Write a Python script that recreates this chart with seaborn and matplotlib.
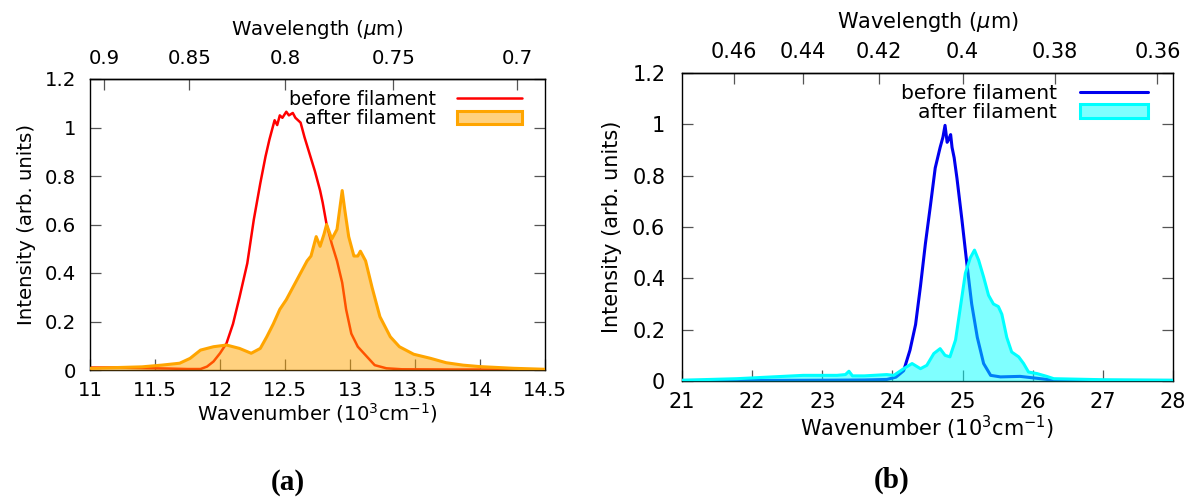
import numpy as np
import matplotlib
matplotlib.use("Agg")
import matplotlib.pyplot as plt
import seaborn as sns
from matplotlib.lines import Line2D
from matplotlib.patches import Patch

# ---------------- data ----------------
# panel (a): near-IR spectrum (wavenumber in 10^3 cm^-1)
a_before_wn = [11.0, 11.2, 11.4, 11.6, 11.75, 11.85, 11.90, 11.95, 12.0, 12.05, 12.10, 12.15, 12.21,
               12.26, 12.31, 12.35, 12.38, 12.40, 12.42, 12.44, 12.46, 12.48, 12.51, 12.53, 12.56,
               12.58, 12.62, 12.65, 12.69, 12.73, 12.77, 12.79, 12.82, 12.86, 12.90, 12.94, 12.97,
               13.01, 13.06, 13.13, 13.19, 13.28, 13.4, 13.8, 14.2, 14.5]
a_before_I = [0.01, 0.01, 0.008, 0.006, 0.004, 0.004, 0.014, 0.035, 0.069, 0.11, 0.19, 0.30, 0.44,
              0.62, 0.77, 0.88, 0.95, 0.99, 1.03, 1.01, 1.05, 1.04, 1.065, 1.05, 1.06,
              1.04, 1.02, 0.96, 0.89, 0.82, 0.74, 0.69, 0.60, 0.52, 0.45, 0.36, 0.25,
              0.15, 0.096, 0.055, 0.02, 0.007, 0.003, 0.002, 0.002, 0.002]
a_after_wn = [11.0, 11.2, 11.4, 11.55, 11.69, 11.77, 11.85, 11.95, 12.05, 12.15, 12.24, 12.31, 12.36,
              12.41, 12.46, 12.51, 12.56, 12.62, 12.67, 12.70, 12.72, 12.74, 12.77, 12.80, 12.82,
              12.86, 12.90, 12.94, 12.96, 12.99, 13.03, 13.06, 13.08, 13.12, 13.17, 13.23, 13.31,
              13.38, 13.49, 13.62, 13.74, 13.87, 14.0, 14.26, 14.5]
a_after_I = [0.007, 0.01, 0.013, 0.02, 0.028, 0.048, 0.082, 0.096, 0.103, 0.089, 0.069, 0.089, 0.137,
             0.19, 0.25, 0.29, 0.34, 0.40, 0.45, 0.47, 0.51, 0.55, 0.51, 0.56, 0.60,
             0.54, 0.58, 0.74, 0.66, 0.55, 0.47, 0.47, 0.49, 0.45, 0.34, 0.22, 0.137,
             0.096, 0.065, 0.048, 0.03, 0.02, 0.014, 0.007, 0.003]

# panel (b): second-harmonic spectrum
b_before_wn = [21.0, 22.0, 23.0, 23.6, 23.92, 24.05, 24.16, 24.25, 24.33, 24.40, 24.47, 24.54, 24.61,
               24.68, 24.72, 24.75, 24.78, 24.80, 24.83, 24.85, 24.88, 24.92, 24.99, 25.06, 25.13,
               25.21, 25.30, 25.40, 25.54, 25.82, 26.11, 26.3, 27.0, 28.0]
b_before_I = [0.002, 0.002, 0.003, 0.004, 0.006, 0.015, 0.04, 0.12, 0.22, 0.37, 0.535, 0.68, 0.83,
              0.91, 0.95, 0.996, 0.93, 0.94, 0.96, 0.91, 0.87, 0.79, 0.63, 0.46, 0.30,
              0.17, 0.068, 0.022, 0.016, 0.018, 0.009, 0.003, 0.002, 0.002]
b_after_wn = [21.0, 21.78, 22.73, 23.21, 23.33, 23.38, 23.43, 23.6, 23.92, 24.02, 24.16, 24.28, 24.40,
              24.49, 24.59, 24.68, 24.75, 24.82, 24.90, 24.97, 25.04, 25.11, 25.17, 25.23, 25.30,
              25.37, 25.44, 25.51, 25.56, 25.63, 25.70, 25.80, 25.87, 25.94, 26.06, 26.20, 26.3,
              27.0, 28.0]
b_after_I = [0.003, 0.009, 0.022, 0.022, 0.025, 0.038, 0.02, 0.02, 0.025, 0.022, 0.048, 0.068, 0.048,
             0.061, 0.107, 0.126, 0.10, 0.094, 0.16, 0.29, 0.42, 0.48, 0.51, 0.47, 0.405,
             0.334, 0.30, 0.29, 0.26, 0.17, 0.113, 0.094, 0.068, 0.035, 0.029, 0.018, 0.009,
             0.005, 0.003]

series_labels = ["before filament", "after filament"]
y_ticks = [0, 0.2, 0.4, 0.6, 0.8, 1.0, 1.2]
y_ticklabels = ["0", "0.2", "0.4", "0.6", "0.8", "1", "1.2"]
a_xticks = [11, 11.5, 12, 12.5, 13, 13.5, 14, 14.5]
a_xticklabels = ["11", "11.5", "12", "12.5", "13", "13.5", "14", "14.5"]
b_xticks = [21, 22, 23, 24, 25, 26, 27, 28]
b_xticklabels = ["21", "22", "23", "24", "25", "26", "27", "28"]
a_wl_ticks = [0.9, 0.85, 0.8, 0.75, 0.7]
a_wl_labels = ["0.9", "0.85", "0.8", "0.75", "0.7"]
b_wl_ticks = [0.46, 0.44, 0.42, 0.40, 0.38, 0.36]
b_wl_labels = ["0.46", "0.44", "0.42", "0.4", "0.38", "0.36"]
panel_labels = ["(a)", "(b)"]

# ---------------- style ----------------
sns.set_theme(style="ticks")
plt.rcParams["font.family"] = ["DejaVu Sans"]
plt.rcParams["mathtext.fontset"] = "dejavusans"
plt.rcParams["axes.linewidth"] = 1.0
plt.rcParams["axes.edgecolor"] = "black"
plt.rcParams["text.color"] = "black"
plt.rcParams["axes.labelcolor"] = "black"

fig = plt.figure(figsize=(11.92, 4.99), dpi=100)
ax_a = fig.add_axes([90 / 1192, 1 - 370 / 499, 455 / 1192, 291 / 499])
ax_b = fig.add_axes([682 / 1192, 1 - 381 / 499, 491 / 1192, 308 / 499])


def inv(x):
    x = np.asarray(x, dtype=float)
    with np.errstate(divide="ignore", invalid="ignore"):
        return np.where(x != 0, 10.0 / np.where(x != 0, x, 1.0), np.inf)


def draw(ax, wn_b, I_b, wn_a, I_a, c_b, c_a, xlim, xt, xtl, wlt, wll, fs, lw_b, leg_anchor,
         ypad, ylabpad, toplabpad):
    sns.lineplot(x=wn_b, y=I_b, color=c_b, lw=lw_b, ax=ax, estimator=None, sort=False, zorder=2)
    ax.fill_between(wn_a, I_a, 0, color=c_a, alpha=0.5, lw=0, zorder=3)
    sns.lineplot(x=wn_a, y=I_a, color=c_a, lw=2.2, ax=ax, estimator=None, sort=False, zorder=4)
    ax.set_xlim(*xlim)
    ax.set_ylim(0, 1.2)
    ax.set_xticks(xt)
    ax.set_xticklabels(xtl)
    ax.set_yticks(y_ticks)
    ax.set_yticklabels(y_ticklabels)
    for s in ax.spines.values():
        s.set_visible(True)
        s.set_color("black")
        s.set_linewidth(1.0)
    ax.tick_params(direction="in", length=8, width=0.9, color="#555555", labelcolor="black",
                   labelsize=fs, top=False, right=True, bottom=True, left=True)
    ax.tick_params(axis="x", pad=8)
    ax.tick_params(axis="y", pad=ypad)
    ax.set_xlabel("Wavenumber (10$^3$cm$^{-1}$)", fontsize=fs, labelpad=1, color="black")
    ax.set_ylabel("Intensity (arb. units)", fontsize=fs, labelpad=ylabpad, color="black")
    sec = ax.secondary_xaxis("top", functions=(inv, inv))
    sec.set_xticks(wlt)
    sec.set_xticklabels(wll)
    sec.tick_params(direction="in", length=8, width=0.9, color="#555555", labelcolor="black",
                    labelsize=fs, pad=8)
    sec.set_xlabel("Wavelength ($\\mu$m)", fontsize=fs, labelpad=toplabpad, color="black")
    handles = [Line2D([], [], color=c_b, lw=lw_b),
               Patch(facecolor=matplotlib.colors.to_rgba(c_a, 0.5), edgecolor=c_a, lw=2.2)]
    leg = ax.legend(handles, series_labels, loc="upper right", bbox_to_anchor=leg_anchor,
                    frameon=False, markerfirst=False, borderpad=0, borderaxespad=0,
                    handlelength=3.4, handletextpad=1.1, labelspacing=0.0, fontsize=fs - 0.4)
    for t in leg.get_texts():
        t.set_color("black")


draw(ax_a, a_before_wn, a_before_I, a_after_wn, a_after_I, "#ff0000", "#ffa500",
     (11, 14.5), a_xticks, a_xticklabels, a_wl_ticks, a_wl_labels, 14.2, 1.8, (0.949, 0.962),
     10, 6, 10)
draw(ax_b, b_before_wn, b_before_I, b_after_wn, b_after_I, "#0000ee", "#00ffff",
     (21, 28), b_xticks, b_xticklabels, b_wl_ticks, b_wl_labels, 15.0, 2.2, (0.950, 0.965),
     12, 7, 10)

fig.text(288 / 1192, 1 - 482 / 499, panel_labels[0], ha="center", va="center",
         fontsize=21, fontweight="bold", family="Liberation Serif", color="black")
fig.text(892 / 1192, 1 - 480 / 499, panel_labels[1], ha="center", va="center",
         fontsize=21, fontweight="bold", family="Liberation Serif", color="black")

fig.savefig("out.png", dpi=100)
